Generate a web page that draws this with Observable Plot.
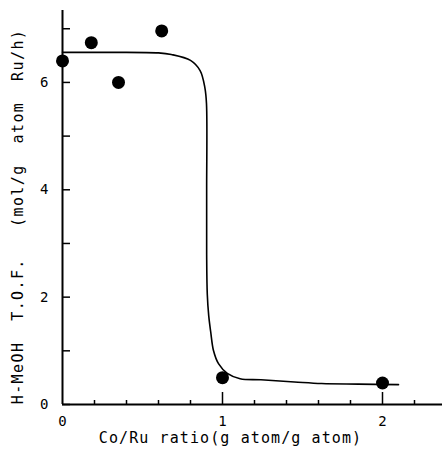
<!DOCTYPE html>
<html><head><meta charset="utf-8">
<script src="https://cdn.jsdelivr.net/npm/d3@7"></script>
<script src="https://cdn.jsdelivr.net/npm/@observablehq/plot@0.6"></script>
<style>body{margin:0;background:#fff}</style>
</head><body><div id="chart"></div>
<script>
const pointX = [0, 0.18, 0.35, 0.62, 1.0, 2.0];
const pointY = [6.4, 6.74, 6.0, 6.96, 0.5, 0.4];
const curveX = [0, 0.3, 0.6, 0.68, 0.8, 0.86, 0.89, 0.9, 0.901, 0.901, 0.905, 0.914, 0.926, 0.944, 0.975, 1.03, 1.11, 1.24, 1.45, 1.62, 1.85, 2.1];
const curveY = [6.56, 6.56, 6.55, 6.52, 6.41, 6.22, 5.9, 5.6, 4.0, 2.8, 2.05, 1.65, 1.36, 1.0, 0.76, 0.58, 0.48, 0.46, 0.42, 0.39, 0.38, 0.37];
const yMajorTicks = [0, 2, 4, 6];
const yMinorTicks = [1, 3, 5, 7];
const xMajorTicks = [0, 1, 2];
const xMinorTicks = [0.2, 0.4, 0.6, 0.8, 1.2, 1.4, 1.6, 1.8, 2.2];
const xLabel = "Co/Ru ratio(g atom/g atom)";
const yLabel = "H-MeOH  T.O.F.   (mol/g  atom  Ru/h)";

const points = pointX.map((x, i) => ({x, y: pointY[i]}));
const curve = curveX.map((x, i) => ({x, y: curveY[i]}));
const fmt = d => String(d);

const chart = Plot.plot({
  width: 442, height: 455,
  marginLeft: 62, marginRight: 0, marginTop: 10, marginBottom: 51,
  x: {domain: [0, 2.375]},
  y: {domain: [0, 7.34]},
  style: {fontFamily: "DejaVu Sans Mono", fontSize: "14px", color: "#000", background: "#fff"},
  marks: [
    Plot.axisY(yMajorTicks, {tickSize: 0, tickPadding: 14, tickFormat: fmt, label: null}),
    Plot.axisY([...yMajorTicks, ...yMinorTicks], {tickSize: -8, text: null, label: null, strokeWidth: 1.5}),
    Plot.axisX(xMajorTicks, {tickSize: 0, tickPadding: 12, tickFormat: fmt, label: null}),
    Plot.axisX(xMajorTicks.filter(d => d > 0), {tickSize: -12, text: null, label: null, strokeWidth: 1.5}),
    Plot.axisX(xMinorTicks, {tickSize: -4, text: null, label: null, strokeWidth: 1.5}),
    Plot.ruleX([0], {strokeWidth: 2}),
    Plot.ruleY([0], {strokeWidth: 2}),
    Plot.line(curve, {x: "x", y: "y", curve: "catmull-rom", strokeWidth: 1.6}),
    Plot.dot(points, {x: "x", y: "y", r: 6.5, fill: "#000"}),
    Plot.text([xLabel], {text: d => d, frameAnchor: "bottom", lineAnchor: "middle", textAnchor: "middle", dy: 34, dx: -22, fontSize: 15}),
    Plot.text([yLabel], {text: d => d, frameAnchor: "left", lineAnchor: "middle", textAnchor: "middle", rotate: -90, dx: -44, dy: 9, fontSize: 15})
  ]
});
d3.select(chart).selectAll("text").each(function() {
  const t = this.textContent;
  if (t === xLabel) d3.select(this).style("white-space", "pre").style("letter-spacing", "1.1px");
  if (t === yLabel) d3.select(this).style("white-space", "pre").style("letter-spacing", "1.4px");
});
document.getElementById("chart").append(chart);
</script>
</body></html>
